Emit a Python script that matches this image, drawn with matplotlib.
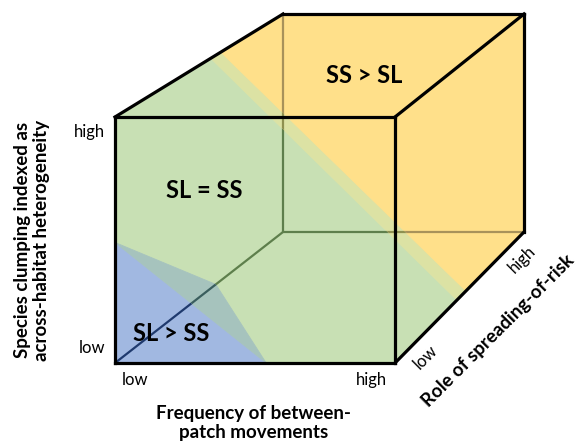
import matplotlib
matplotlib.use("Agg")
import matplotlib.pyplot as plt
from matplotlib.patches import Polygon
import numpy as np

# ---------------- data ----------------
axis_names = ["Frequency of between-\npatch movements",
              "Species clumping indexed as\nacross-habitat heterogeneity",
              "Role of spreading-of-risk"]
tick_labels = ["low", "high"]
region_labels = ["SL > SS", "SL = SS", "SS > SL"]
# SL > SS corner region: intercepts on the x, y and z axes (cube units 0..1)
blue_intercepts = [0.54, 0.49, 0.60]
# SL = SS / SS > SL boundary band: depth on the top-left edge and bottom-right edge
band_top_z = [0.57, 0.63]
band_bottom_z = [0.48, 0.55]

# ---------------- layout (pixel frame) ----------------
W, H = 577, 443
FX0, FW, FY0, FH = 115, 280, 363, 246    # front face
BX0, BW, BY0, BH = 283, 241, 232, 218    # back face


def proj(x, y, z):
    fx, fy = FX0 + FW * x, FY0 - FH * y
    bx, by = BX0 + BW * x, BY0 - BH * y
    return ((1 - z) * fx + z * bx, (1 - z) * fy + z * by)


fig = plt.figure(figsize=(W / 100, H / 100), dpi=100)
ax = fig.add_axes([0, 0, 1, 1])
ax.set_xlim(0, W)
ax.set_ylim(H, 0)
ax.axis("off")

FONT = "Lato"

# corners
FBL, FBR, FTL, FTR = proj(0, 0, 0), proj(1, 0, 0), proj(0, 1, 0), proj(1, 1, 0)
BBL, BBR, BTL, BTR = proj(0, 0, 1), proj(1, 0, 1), proj(0, 1, 1), proj(1, 1, 1)

A = proj(0, blue_intercepts[1], 0)
B = proj(blue_intercepts[0], 0, 0)
C = proj(0, 0, blue_intercepts[2])

Pl1 = proj(0, 1, band_top_z[0])
Pr1 = proj(0, 1, band_top_z[1])
Pl2 = proj(1, 0, band_bottom_z[0])
Pr2 = proj(1, 0, band_bottom_z[1])

c_green, c_yellow, c_blue = "#C8E0B4", "#FFE08A", "#A1B8E1"
c_teal, c_band = "#A6C3BD", "#DCE2A4"
regions = [
    ([Pl1, FTL, A, C, B, FBR, Pl2], c_green, "#5E7F4C"),
    ([FBL, A, B], c_blue, "#1F3A6E"),
    ([A, C, B], c_teal, "#3A5E5E"),
    ([Pl1, Pl2, Pr2, Pr1], c_band, "#8E9050"),
    ([Pr1, BTL, BTR, BBR, Pr2], c_yellow, "#A8925A"),
]

hidden_edges = [(BBL, BTL), (BBL, BBR), (BBL, FBL)]

for pts, col, edge_col in regions:
    patch = Polygon(pts, closed=True, facecolor=col, edgecolor=col, lw=0.6, zorder=1)
    ax.add_patch(patch)
    for p, q in hidden_edges:
        ln, = ax.plot([p[0], q[0]], [p[1], q[1]], color=edge_col, lw=1.6,
                      solid_capstyle="butt", zorder=2)
        ln.set_clip_path(patch)

# visible edges
vis = [(FBL, FBR), (FBR, FTR), (FTR, FTL), (FTL, FBL),
       (FTL, BTL), (BTL, BTR), (FTR, BTR), (BTR, BBR), (FBR, BBR)]
for p, q in vis:
    ax.plot([p[0], q[0]], [p[1], q[1]], color="black", lw=2.3,
            solid_capstyle="projecting", zorder=3)

# region labels
pos_blue = proj(0.2, 0.12, 0)
pos_green = proj(0.32, 0.70, 0)
pos_yellow = proj(0.69, 1, 0.4)
for lab, p in zip(region_labels, [pos_blue, pos_green, pos_yellow]):
    ax.text(p[0], p[1], lab, fontsize=17, fontweight="bold", family=FONT,
            ha="center", va="center", zorder=4)

# y axis ticks
for lab, v in zip(tick_labels, [0.06, 0.94]):
    x, y = proj(0, v, 0)
    ax.text(x - 10, y, lab, fontsize=12, family=FONT, ha="right", va="center")
# x axis ticks
for lab, v in zip(tick_labels, [0.07, 0.915]):
    x, y = proj(v, 0, 0)
    ax.text(x, y + 17, lab, fontsize=12, family=FONT, ha="center", va="center")
# depth ticks
ux, uy = BBR[0] - FBR[0], BBR[1] - FBR[1]
n = np.hypot(ux, uy)
perp = (-uy / n, ux / n)  # points down-right
for lab, v in zip(tick_labels, [0.14, 0.89]):
    x, y = proj(1, 0, v)
    ax.text(x + 18 * perp[0], y + 18 * perp[1], lab, fontsize=12, family=FONT,
            ha="center", va="center", rotation=45, rotation_mode="anchor")

# axis titles
x, y = proj(1, 0, 0.52)
ax.text(x + 51 * perp[0], y + 51 * perp[1], axis_names[2], fontsize=13.5,
        fontweight="bold", family=FONT, ha="center", va="center",
        rotation=45, rotation_mode="anchor")
ax.text(32, 240, axis_names[1], fontsize=13.5, fontweight="bold", family=FONT,
        ha="center", va="center", rotation=90, linespacing=1.15)
ax.text(254, 423, axis_names[0], fontsize=13.5, fontweight="bold", family=FONT,
        ha="center", va="center", linespacing=1.15)

fig.savefig("out.png", dpi=100)
